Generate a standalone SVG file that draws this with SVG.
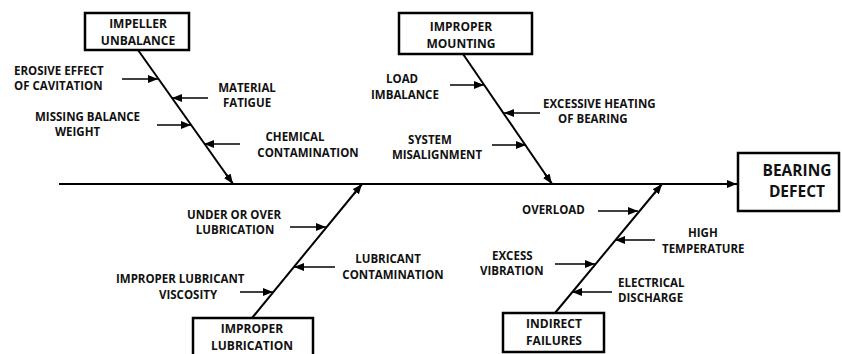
<svg xmlns="http://www.w3.org/2000/svg" width="842" height="354" viewBox="0 0 842 354">
  <style>
    .box { fill: #ffffff; stroke: #000000; stroke-width: 2.5; }
    .bone { stroke: #000000; stroke-width: 2; fill: none; }
    .cause { stroke: #000000; stroke-width: 1.6; fill: none; marker-end: url(#head); }
    .spine { stroke: #000000; stroke-width: 2.2; fill: none; marker-end: url(#head); }
    text { font-family: "Open Sans", "Liberation Sans", sans-serif; font-weight: 700; font-size: 11.5px; fill: #111111; }
    .title { text-anchor: middle; font-size: 12px; }
    .effect { text-anchor: middle; font-size: 15.5px; }
    .mid { text-anchor: middle; }
  </style>
  <defs>
    <marker id="head" viewBox="0 0 10 8" refX="10" refY="4" markerWidth="10" markerHeight="8" markerUnits="userSpaceOnUse" orient="auto">
      <path d="M0,0 L10,4 L0,8 Z" fill="#000000"/>
    </marker>
  </defs>
  <rect width="842" height="354" fill="#ffffff"/>

  <!-- bones and cause arrows -->
  <g id="connectors">
    <line class="spine" x1="59" y1="184" x2="737" y2="184"/>
    <!-- impeller unbalance -->
    <line class="bone" x1="138" y1="50" x2="233" y2="184"/>
    <line class="bone" x1="226" y1="174" x2="233" y2="184" marker-end="url(#head)"/>
    <line class="cause" x1="122" y1="79" x2="158" y2="79"/>
    <line class="cause" x1="208" y1="98" x2="172" y2="98"/>
    <line class="cause" x1="157" y1="125" x2="191" y2="125"/>
    <line class="cause" x1="240" y1="144" x2="204" y2="144"/>
    <!-- improper mounting -->
    <line class="bone" x1="463" y1="54" x2="552" y2="184"/>
    <line class="bone" x1="545" y1="174" x2="552" y2="184" marker-end="url(#head)"/>
    <line class="cause" x1="450" y1="85" x2="484" y2="85"/>
    <line class="cause" x1="540" y1="113" x2="504" y2="113"/>
    <line class="cause" x1="492" y1="145" x2="526" y2="145"/>
    <!-- improper lubrication -->
    <line class="bone" x1="252" y1="318" x2="362" y2="184"/>
    <line class="bone" x1="354" y1="194" x2="362" y2="184" marker-end="url(#head)"/>
    <line class="cause" x1="290" y1="227" x2="326" y2="227"/>
    <line class="cause" x1="335" y1="267" x2="294" y2="267"/>
    <line class="cause" x1="240" y1="292" x2="273" y2="292"/>
    <!-- indirect failures -->
    <line class="bone" x1="555" y1="313" x2="662" y2="184"/>
    <line class="bone" x1="654" y1="194" x2="662" y2="184" marker-end="url(#head)"/>
    <line class="cause" x1="598" y1="211" x2="638" y2="211"/>
    <line class="cause" x1="655" y1="240" x2="615" y2="240"/>
    <line class="cause" x1="555" y1="264" x2="595" y2="264"/>
    <line class="cause" x1="612" y1="292" x2="572" y2="292"/>
  </g>

  <g id="impeller-unbalance">
    <rect class="box" x="85" y="13" width="104" height="37"/>
    <text class="title" x="138" y="28">IMPELLER</text>
    <text class="title" x="138" y="45">UNBALANCE</text>
  </g>
  <g id="improper-mounting">
    <rect class="box" x="399" y="13" width="133" height="41"/>
    <text class="title" x="461" y="31">IMPROPER</text>
    <text class="title" x="461" y="48">MOUNTING</text>
  </g>
  <g id="improper-lubrication">
    <rect class="box" x="193" y="318" width="120" height="40"/>
    <text class="title" x="252" y="333">IMPROPER</text>
    <text class="title" x="252" y="350">LUBRICATION</text>
  </g>
  <g id="indirect-failures">
    <rect class="box" x="503" y="313" width="101" height="39"/>
    <text class="title" x="554" y="328">INDIRECT</text>
    <text class="title" x="554" y="345">FAILURES</text>
  </g>
  <g id="bearing-defect">
    <rect class="box" x="738" y="153" width="101" height="58"/>
    <text class="effect" x="797" y="176">BEARING</text>
    <text class="effect" x="797" y="197">DEFECT</text>
  </g>

  <g id="causes">
    <text x="14" y="75">EROSIVE EFFECT</text>
    <text x="14" y="90">OF CAVITATION</text>
    <text class="mid" x="247" y="92">MATERIAL</text>
    <text class="mid" x="247" y="107">FATIGUE</text>
    <text x="35" y="121">MISSING BALANCE</text>
    <text x="55" y="136">WEIGHT</text>
    <text class="mid" x="295" y="141">CHEMICAL</text>
    <text class="mid" x="308" y="157">CONTAMINATION</text>

    <text x="386" y="83">LOAD</text>
    <text x="371" y="99">IMBALANCE</text>
    <text x="543" y="108">EXCESSIVE HEATING</text>
    <text x="558" y="123">OF BEARING</text>
    <text class="mid" x="430" y="144">SYSTEM</text>
    <text class="mid" x="437" y="159">MISALIGNMENT</text>

    <text class="mid" x="234" y="219">UNDER OR OVER</text>
    <text class="mid" x="235" y="234">LUBRICATION</text>
    <text class="mid" x="388" y="263">LUBRICANT</text>
    <text class="mid" x="393" y="279">CONTAMINATION</text>
    <text x="116" y="283">IMPROPER LUBRICANT</text>
    <text x="159" y="299">VISCOSITY</text>

    <text x="522" y="214">OVERLOAD</text>
    <text x="688" y="237">HIGH</text>
    <text x="662" y="253">TEMPERATURE</text>
    <text x="492" y="260">EXCESS</text>
    <text x="480" y="275">VIBRATION</text>
    <text x="618" y="287">ELECTRICAL</text>
    <text x="618" y="302">DISCHARGE</text>
  </g>
</svg>
